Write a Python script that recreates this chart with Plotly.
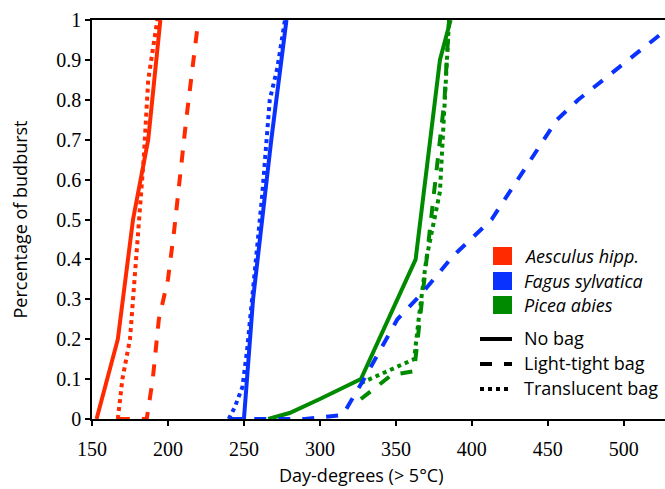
import plotly.graph_objects as go

# ---- data (day-degrees, fraction of budburst) ----
aesc_none_x = [153, 160, 167, 177, 187, 195]
aesc_none_y = [0, 0.1, 0.2, 0.5, 0.7, 1.0]
aesc_dark_x = [167, 186, 190, 194, 200, 204, 212, 220]
aesc_dark_y = [0, 0, 0.1, 0.25, 0.35, 0.47, 0.75, 1.0]
aesc_transl_x = [167, 170, 175, 177, 181, 184, 187, 190, 193]
aesc_transl_y = [0, 0.1, 0.2, 0.3, 0.5, 0.65, 0.85, 0.93, 1.0]

fagus_none_x = [250, 256, 262, 268, 278]
fagus_none_y = [0, 0.3, 0.5, 0.7, 1.0]
fagus_dark_x = [241, 290, 315, 329, 351, 366, 388, 413, 456, 470, 536]
fagus_dark_y = [0, 0, 0.01, 0.1, 0.25, 0.31, 0.41, 0.5, 0.75, 0.8, 1.0]
fagus_transl_x = [240, 244, 247, 249, 252, 255, 262, 267, 272, 277]
fagus_transl_y = [0, 0.03, 0.06, 0.08, 0.17, 0.28, 0.56, 0.8, 0.88, 1.0]

picea_none_x = [266, 280, 300, 327, 363, 379, 386]
picea_none_y = [0, 0.015, 0.05, 0.1, 0.4, 0.9, 1.0]
picea_dark_x = [327, 347, 362, 367, 374, 382, 385]
picea_dark_y = [0.05, 0.11, 0.12, 0.3, 0.53, 0.8, 1.0]
picea_transl_x = [327, 345, 362, 365, 370, 379, 382, 385]
picea_transl_y = [0.09, 0.12, 0.15, 0.25, 0.4, 0.57, 0.8, 1.0]

species = ["Aesculus hipp.", "Fagus sylvatica", "Picea abies"]
treatments = ["No bag", "Light-tight bag", "Translucent bag"]
x_ticks = [150, 200, 250, 300, 350, 400, 450, 500]
y_ticks = [0, 0.1, 0.2, 0.3, 0.4, 0.5, 0.6, 0.7, 0.8, 0.9, 1]

RED = "#ff2a00"
BLUE = "#0a32ff"
GREEN = "#008a00"
colors = [RED, BLUE, GREEN]
dashes = ["solid", "dash", "dot"]

SERIF = "Liberation Serif"
SANS = "Open Sans"

W, H = 665, 489
ML, MT, MB, MR = 92, 20, 70, 0
PW, PH = W - ML - MR, H - MT - MB

fig = go.Figure()
series = [
    (aesc_none_x, aesc_none_y, RED, "solid"),
    (aesc_dark_x, aesc_dark_y, RED, "dash"),
    (aesc_transl_x, aesc_transl_y, RED, "dot"),
    (picea_none_x, picea_none_y, GREEN, "solid"),
    (picea_dark_x, picea_dark_y, GREEN, "dash"),
    (picea_transl_x, picea_transl_y, GREEN, "dot"),
    (fagus_none_x, fagus_none_y, BLUE, "solid"),
    (fagus_dark_x, fagus_dark_y, BLUE, "dash"),
    (fagus_transl_x, fagus_transl_y, BLUE, "dot"),
]
for xs, ys, c, d in series:
    fig.add_trace(go.Scatter(x=xs, y=ys, mode="lines",
                             line=dict(color=c, width=4, dash=d),
                             showlegend=False, hoverinfo="skip"))

px_per_unit = 1.5194
x_max = 150 + PW / px_per_unit


def px(xp):
    return (xp - ML) / PW


def py(yp):
    return 1 - (yp - MT) / PH


shapes = []
annotations = []
# species legend
sq_tops = [247, 272, 296]
for i, (name, c) in enumerate(zip(species, colors)):
    t = sq_tops[i]
    shapes.append(dict(type="rect", xref="paper", yref="paper",
                       x0=px(493), x1=px(512), y0=py(t + 18), y1=py(t),
                       fillcolor=c, line=dict(width=0)))
    annotations.append(dict(xref="paper", yref="paper", x=px(522), y=py(t + 9),
                            text="<i>" + name + "</i>", showarrow=False,
                            xanchor="left", yanchor="middle",
                            font=dict(family=SANS, size=18, color="black")))
# treatment legend
line_ys = [339, 364, 389]
for i, (name, d) in enumerate(zip(treatments, dashes)):
    yy = line_ys[i]
    shapes.append(dict(type="line", xref="paper", yref="paper",
                       x0=px(480), x1=px(512), y0=py(yy), y1=py(yy),
                       line=dict(color="black", width=4, dash=d)))
    annotations.append(dict(xref="paper", yref="paper", x=px(522), y=py(yy - 1),
                            text=name, showarrow=False,
                            xanchor="left", yanchor="middle",
                            font=dict(family=SANS, size=18, color="black")))

# x-axis title
annotations.append(dict(xref="paper", yref="paper", x=px(361), y=py(475),
                        text="Day-degrees (> 5°C)", showarrow=False,
                        xanchor="center", yanchor="middle",
                        font=dict(family=SANS, size=18, color="black")))

fig.update_layout(
    width=W, height=H,
    font=dict(family=SERIF, size=20, color="black"),
    margin=dict(l=ML, r=MR, t=MT, b=MB, pad=0),
    paper_bgcolor="white", plot_bgcolor="white",
    shapes=shapes, annotations=annotations,
    xaxis=dict(range=[150, x_max], tickvals=x_ticks,
               ticktext=[str(v) for v in x_ticks],
               showgrid=False, zeroline=False,
               showline=True, linecolor="black", linewidth=1.5, mirror=True,
               ticks="outside", ticklen=5, tickwidth=1.5, tickcolor="black",
               ticklabelstandoff=6),
    yaxis=dict(range=[0, 1], tickvals=y_ticks,
               ticktext=[("%g" % v) for v in y_ticks],
               showgrid=False, zeroline=False,
               showline=True, linecolor="black", linewidth=1.5,
               ticks="outside", ticklen=5, tickwidth=1.5, tickcolor="black",
               title=dict(text="Percentage of budburst", standoff=24,
                          font=dict(family=SANS, size=18, color="black"))),
)

fig.write_html("out.html")
